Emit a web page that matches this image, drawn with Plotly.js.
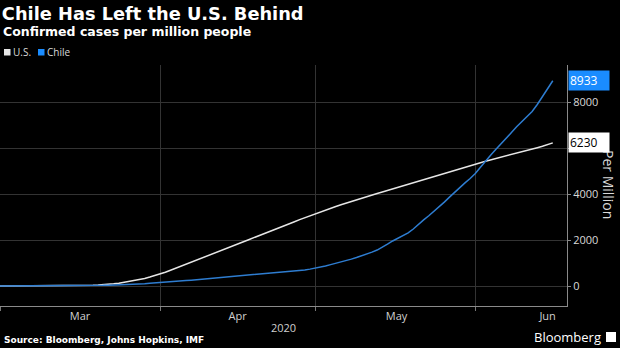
<!DOCTYPE html>
<html>
<head>
<meta charset="utf-8">
<script src="https://cdn.plot.ly/plotly-3.0.1.min.js"></script>
<style>html,body{margin:0;padding:0;background:#000;}#chart{width:620px;height:348px;}</style>
</head>
<body>
<div id="chart"></div>
<script>
// ---- Data ----
const startDate = [2020, 2, 1]; // 2020-03-01, daily observations
const seriesNames = ['U.S.', 'Chile'];
const usCases = [
  0,0,0,0,0,0,0,1,1,2,2,3,4,5,7,
  10,14,20,28,40,52,
  70,95,125,160,195,
  230,275,330,390,450,520,600,685,770,860,
  950,1040,1125,1215,1300,1390,1480,1565,1655,1740,
  1830,1915,2005,2090,2180,2265,2355,2440,2530,2620,
  2710,2800,2890,2975,3060,3145,3225,3305,3385,3460,
  3535,3610,3685,3755,3825,3895,3960,4025,4090,4155,
  4220,4290,4360,4430,4500,4570,4640,4705,4770,4835,
  4900,4965,5030,5095,5160,5225,5295,5365,5435,
  5490,5550,5610,5670,5730,5790,5840,5900,5960,6020,6080,6150,6230
];
const chileCases = [
  0,0,0,0,0,0,0,0,0,0,1,1,1,2,3,
  4,8,12,18,23,
  28,35,40,50,60,70,78,88,100,115,128,145,
  160,175,195,215,235,255,275,295,315,335,355,375,395,415,430,450,465,
  480,495,510,530,550,575,600,625,650,675,700,
  735,770,820,870,930,985,1045,1110,1170,1240,
  1310,1390,1475,1565,1680,1820,1960,2080,2190,2310,
  2480,2700,2880,3060,3250,3450,3650,3870,4090,4300,
  4490,4680,4900,5170,5450,
  5700,5950,6180,6420,6680,6930,7140,7360,7600,7900,8250,8600,8933
];
const monthLabels = ['Mar', 'Apr', 'May', 'Jun'];
const monthLabelDates = ['2020-03-16 12:00', '2020-04-16', '2020-05-16 18:00', '2020-06-15'];
const yearLabel = '2020';
const yTickVals = [0, 2000, 4000, 6000, 8000];
const xRange = ['2020-03-01', '2020-06-18 18:00'];
const yRange = [-870, 9620];

// ---- Styling ----
const usColor = '#e6e6e6';
const chileColor = '#2e7dd1';
const chileKeyColor = '#1a8cff';
const font = 'Open Sans, Liberation Sans, sans-serif';
const boldFont = 'DejaVu Sans, Verdana, sans-serif';

function dayString(i) {
  const d = new Date(Date.UTC(startDate[0], startDate[1], startDate[2] + i));
  return d.toISOString().slice(0, 10);
}
const usDates = usCases.map((_, i) => dayString(i));
const chileDates = chileCases.map((_, i) => dayString(i));

const traces = [
  {x: usDates, y: usCases, type: 'scatter', mode: 'lines', name: seriesNames[0],
   line: {color: usColor, width: 1.5}, showlegend: false, hoverinfo: 'skip'},
  {x: chileDates, y: chileCases, type: 'scatter', mode: 'lines', name: seriesNames[1],
   line: {color: chileColor, width: 1.5}, showlegend: false, hoverinfo: 'skip'}
];

const usLast = usCases[usCases.length - 1];
const chileLast = chileCases[chileCases.length - 1];
const plotW = 567, plotBottom = 306, plotH = 241;
const px = v => v / plotW;               // pixel x -> paper x
const py = v => (plotBottom - v) / plotH; // pixel y -> paper y

const legendKey = (x0, color) => ({type: 'rect', xref: 'paper', yref: 'paper',
  x0: px(x0), x1: px(x0 + 6.5), y0: py(55.5), y1: py(49), fillcolor: color, line: {width: 0}});
const legendText = (x, text) => ({xref: 'paper', yref: 'paper', x: px(x), y: py(52.5),
  xanchor: 'left', yanchor: 'middle', showarrow: false, text: text, font: {size: 10, color: '#d9d9d9'}});

const layout = {
  width: 620, height: 348,
  paper_bgcolor: '#000', plot_bgcolor: '#000',
  margin: {l: 0, r: 53, t: 65, b: 42},
  font: {family: font, color: '#d9d9d9', size: 11},
  title: {
    text: '<b>Chile Has Left the U.S. Behind</b>',
    x: 0.003, xanchor: 'left', xref: 'container',
    y: 1 - 14 / 348, yanchor: 'middle', yref: 'container',
    font: {family: boldFont, size: 17.8, color: '#ffffff'}
  },
  xaxis: {
    type: 'date', range: xRange,
    tickmode: 'array', tickvals: monthLabelDates, ticktext: monthLabels,
    ticks: '', showgrid: false,
    minor: {dtick: 'M1', tick0: '2020-03-01', showgrid: true, gridcolor: '#333', gridwidth: 1,
            ticks: 'outside', ticklen: 4, tickcolor: '#777'},
    showline: true, linecolor: '#8a8a8a', linewidth: 1,
    zeroline: false,
    tickfont: {size: 11, color: '#d0d0d0'},
    title: {text: yearLabel, font: {size: 11, color: '#d0d0d0'}, standoff: 2}
  },
  yaxis: {
    side: 'right', range: yRange, tickvals: yTickVals,
    ticks: 'outside', ticklen: 3, tickcolor: '#8a8a8a',
    showgrid: true, gridcolor: '#333', gridwidth: 1,
    showline: true, linecolor: '#8a8a8a', linewidth: 1,
    zeroline: false,
    tickfont: {size: 11, color: '#d9d9d9'}
  },
  annotations: [
    {xref: 'paper', yref: 'paper', x: px(1), y: py(31), xanchor: 'left', yanchor: 'middle', showarrow: false,
     text: '<b>Confirmed cases per million people</b>', font: {family: boldFont, size: 12.5, color: '#ffffff'}},
    legendText(11, seriesNames[0]),
    legendText(45, seriesNames[1]),
    {xref: 'paper', yref: 'paper', x: px(609), y: py(184), xanchor: 'center', yanchor: 'middle', showarrow: false,
     text: 'Per Million', textangle: 90, font: {size: 14, color: '#d9d9d9'}},
    {xref: 'paper', yref: 'y', x: 1, y: chileLast, xanchor: 'left', yanchor: 'middle', xshift: 1, showarrow: false,
     text: String(chileLast), bgcolor: chileKeyColor, font: {size: 12, color: '#ffffff'},
     width: 38, align: 'left', borderpad: 1},
    {xref: 'paper', yref: 'y', x: 1, y: usLast, xanchor: 'left', yanchor: 'middle', xshift: 1, showarrow: false,
     text: String(usLast), bgcolor: '#ffffff', font: {size: 12, color: '#000000'},
     width: 38, align: 'left', borderpad: 1},
    {xref: 'paper', yref: 'paper', x: px(2), y: py(340), xanchor: 'left', yanchor: 'middle', showarrow: false,
     text: '<b>Source: Bloomberg, Johns Hopkins, IMF</b>', font: {family: boldFont, size: 9, color: '#ffffff'}},
    {xref: 'paper', yref: 'paper', x: px(603), y: py(337), xanchor: 'right', yanchor: 'middle', showarrow: false,
     text: 'Bloomberg', font: {size: 13, color: '#ffffff'}}
  ],
  shapes: [
    legendKey(4, usColor),
    legendKey(38, chileKeyColor),
    {type: 'rect', xref: 'paper', yref: 'paper', x0: px(606), x1: px(616), y0: py(342), y1: py(332),
     fillcolor: '#ffffff', line: {width: 0}}
  ]
};

Plotly.newPlot('chart', traces, layout, {staticPlot: true, displayModeBar: false});
</script>
</body>
</html>
